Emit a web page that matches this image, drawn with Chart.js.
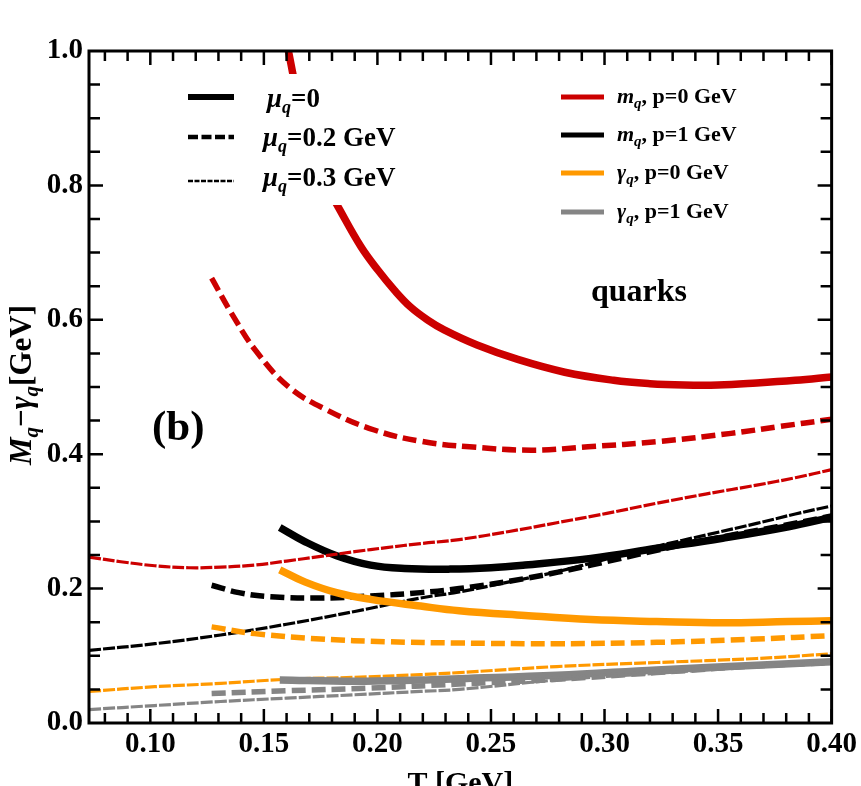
<!DOCTYPE html>
<html>
<head>
<meta charset="utf-8">
<script src="https://cdn.jsdelivr.net/npm/chart.js@4.4.1/dist/chart.umd.min.js"></script>
<style>
  html, body { margin: 0; padding: 0; background: #fff; overflow: hidden; }
  canvas { display: block; }
</style>
</head>
<body>
<canvas id="chart" width="861" height="810"></canvas>
<script>
// axis ticks
const xTicks = [0.10, 0.15, 0.20, 0.25, 0.30, 0.35, 0.40];
const yTicks = [0.0, 0.2, 0.4, 0.6, 0.8, 1.0];

// m_q, p=0 GeV
const tRedSolid = [0.1608, 0.166, 0.172, 0.1775, 0.1827, 0.1927, 0.2002, 0.2075, 0.2146, 0.222, 0.2294, 0.2439, 0.2618, 0.2825, 0.304, 0.320, 0.335, 0.350, 0.367, 0.384, 0.400];
const mRedSolid = [1.000, 0.915, 0.850, 0.800, 0.768, 0.709, 0.674, 0.644, 0.619, 0.600, 0.585, 0.5625, 0.541, 0.522, 0.510, 0.505, 0.503, 0.503, 0.506, 0.510, 0.515];
const tRedDash = [0.127, 0.1357, 0.1462, 0.161, 0.1776, 0.1986, 0.2196, 0.2406, 0.2678, 0.2927, 0.3242, 0.3557, 0.3767, 0.400];
const mRedDash = [0.662, 0.610, 0.555, 0.500, 0.466, 0.436, 0.419, 0.411, 0.406, 0.411, 0.419, 0.431, 0.441, 0.452];
const tRedThin = [0.073, 0.087, 0.102, 0.117, 0.131, 0.146, 0.160, 0.175, 0.190, 0.204, 0.219, 0.236, 0.258, 0.279, 0.301, 0.323, 0.345, 0.367, 0.384, 0.400];
const mRedThin = [0.247, 0.240, 0.234, 0.231, 0.232, 0.235, 0.241, 0.248, 0.255, 0.261, 0.267, 0.273, 0.285, 0.298, 0.312, 0.327, 0.341, 0.354, 0.365, 0.377];

// m_q, p=1 GeV
const tBlackSolid = [0.157, 0.168, 0.182, 0.197, 0.212, 0.232, 0.250, 0.265, 0.294, 0.323, 0.352, 0.381, 0.400];
const mBlackSolid = [0.291, 0.270, 0.249, 0.235, 0.230, 0.229, 0.231, 0.235, 0.245, 0.260, 0.275, 0.292, 0.306];
const tBlackDash = [0.127, 0.139, 0.153, 0.175, 0.197, 0.219, 0.236, 0.265, 0.294, 0.323, 0.352, 0.376, 0.400];
const mBlackDash = [0.205, 0.194, 0.188, 0.186, 0.189, 0.194, 0.200, 0.215, 0.235, 0.257, 0.277, 0.292, 0.308];
const tBlackThin = [0.073, 0.102, 0.131, 0.160, 0.190, 0.219, 0.236, 0.258, 0.279, 0.301, 0.323, 0.345, 0.367, 0.384, 0.400];
const mBlackThin = [0.108, 0.118, 0.131, 0.147, 0.166, 0.186, 0.195, 0.210, 0.225, 0.244, 0.263, 0.280, 0.297, 0.311, 0.323];

// gamma_q, p=0 GeV
const tOrangeSolid = [0.157, 0.168, 0.182, 0.197, 0.219, 0.236, 0.265, 0.294, 0.323, 0.352, 0.381, 0.400];
const gOrangeSolid = [0.228, 0.210, 0.194, 0.184, 0.174, 0.167, 0.160, 0.154, 0.151, 0.149, 0.151, 0.152];
const tOrangeDash = [0.127, 0.146, 0.175, 0.204, 0.236, 0.279, 0.323, 0.367, 0.400];
const gOrangeDash = [0.143, 0.133, 0.125, 0.121, 0.119, 0.118, 0.120, 0.125, 0.130];
const tOrangeThin = [0.073, 0.102, 0.131, 0.160, 0.190, 0.219, 0.236, 0.279, 0.323, 0.367, 0.400];
const gOrangeThin = [0.047, 0.054, 0.059, 0.065, 0.068, 0.072, 0.075, 0.084, 0.090, 0.096, 0.103];

// gamma_q, p=1 GeV
const tGraySolid = [0.157, 0.190, 0.219, 0.236, 0.279, 0.323, 0.367, 0.400];
const gGraySolid = [0.064, 0.062, 0.064, 0.066, 0.071, 0.079, 0.086, 0.091];
const tGrayDash = [0.127, 0.160, 0.197, 0.236, 0.279, 0.323, 0.367, 0.400];
const gGrayDash = [0.044, 0.048, 0.052, 0.058, 0.065, 0.075, 0.085, 0.090];
const tGrayThin = [0.073, 0.102, 0.131, 0.160, 0.190, 0.219, 0.236, 0.279, 0.323, 0.367, 0.400];
const gGrayThin = [0.020, 0.026, 0.032, 0.037, 0.042, 0.047, 0.050, 0.064, 0.074, 0.084, 0.091];

const muLabels = ['=0', '=0.2 GeV', '=0.3 GeV'];
const seriesLabels = [
  { sym: 'm', text: ', p=0 GeV' },
  { sym: 'm', text: ', p=1 GeV' },
  { sym: 'γ', text: ', p=0 GeV' },
  { sym: 'γ', text: ', p=1 GeV' },
];

const RED = '#cc0000';
const ORANGE = '#ff9900';
const GRAY = '#858585';
const BLACK = '#000000';
const SERIF = '"Liberation Serif", "Times New Roman", serif';

const styles = {
  solid: { borderWidth: 7.5, borderDash: [] },
  dash: { borderWidth: 5.5, borderDash: [14, 6] },
  thin: { borderWidth: 3.2, borderDash: [12, 2] },
};

function line(ts, vs, color, style) {
  return {
    data: ts.map((t, i) => ({ x: t, y: vs[i] })),
    borderColor: color,
    borderWidth: styles[style].borderWidth,
    borderDash: styles[style].borderDash,
    pointRadius: 0,
    fill: false,
    tension: 0.4,
    clip: 0,
  };
}

// draw a run of text pieces with different fonts / baseline shifts
function richText(ctx, parts, x, y) {
  let cx = x;
  parts.forEach(p => {
    ctx.font = p.font;
    ctx.fillText(p.t, cx, y + (p.dy || 0));
    cx += ctx.measureText(p.t).width;
  });
  return cx - x;
}
function richWidth(ctx, parts) {
  let w = 0;
  parts.forEach(p => { ctx.font = p.font; w += ctx.measureText(p.t).width; });
  return w;
}

const decorations = {
  id: 'decorations',
  afterDatasetsDraw(chart) {
    const { ctx, chartArea: a, scales: { x, y } } = chart;
    ctx.save();

    // left legend box (opaque)
    ctx.fillStyle = '#fff';
    ctx.fillRect(172, 74, 250, 131);

    // left legend: line styles
    const legY = [97, 137, 181];
    const legDash = [[], [10, 3.5], [5, 1.5]];
    const legW = [6, 4.5, 2.5];
    ctx.strokeStyle = BLACK;
    legY.forEach((ly, i) => {
      ctx.beginPath();
      ctx.setLineDash(legDash[i]);
      ctx.lineWidth = legW[i];
      ctx.moveTo(188, ly);
      ctx.lineTo(234, ly);
      ctx.stroke();
    });
    ctx.setLineDash([]);
    ctx.fillStyle = BLACK;
    ctx.textBaseline = 'alphabetic';
    ctx.textAlign = 'left';
    const muBase = [107, 146, 186];
    muLabels.forEach((lab, i) => {
      richText(ctx, [
        { t: 'μ', font: `italic bold 27px ${SERIF}` },
        { t: 'q', font: `italic bold 18px ${SERIF}`, dy: 6 },
        { t: lab, font: `bold 27px ${SERIF}` },
      ], i === 0 ? 267 : 263, muBase[i]);
    });

    // right legend: colours
    const colY = [97, 135, 173, 212];
    const cols = [RED, BLACK, ORANGE, GRAY];
    cols.forEach((c, i) => {
      ctx.beginPath();
      ctx.strokeStyle = c;
      ctx.lineWidth = 5;
      ctx.moveTo(561, colY[i]);
      ctx.lineTo(604, colY[i]);
      ctx.stroke();
    });
    seriesLabels.forEach((s, i) => {
      richText(ctx, [
        { t: s.sym, font: `italic bold 22px ${SERIF}` },
        { t: 'q', font: `italic bold 15px ${SERIF}`, dy: 5 },
        { t: s.text, font: `bold 22px ${SERIF}` },
      ], 617, colY[i] + 6);
    });

    // annotations
    ctx.font = `bold 32px ${SERIF}`;
    ctx.fillText('quarks', 591, 301);
    ctx.font = `bold 43px ${SERIF}`;
    ctx.fillText('(b)', 152, 440);

    // y axis title, rotated
    const yTitle = [
      { t: 'M', font: `italic bold 31px ${SERIF}` },
      { t: 'q', font: `italic bold 21px ${SERIF}`, dy: 7 },
      { t: '−', font: `bold 31px ${SERIF}` },
      { t: 'γ', font: `italic bold 31px ${SERIF}` },
      { t: 'q', font: `italic bold 21px ${SERIF}`, dy: 7 },
      { t: '[GeV]', font: `bold 31px ${SERIF}` },
    ];
    ctx.save();
    ctx.translate(31, 385);
    ctx.rotate(-Math.PI / 2);
    richText(ctx, yTitle, -richWidth(ctx, yTitle) / 2, 0);
    ctx.restore();

    // frame
    ctx.strokeStyle = BLACK;
    ctx.lineWidth = 3;
    ctx.strokeRect(a.left, a.top, a.right - a.left, a.bottom - a.top);

    // inward ticks on all four sides
    ctx.lineWidth = 2.5;
    ctx.beginPath();
    for (let k = 8; k <= 40; k++) {
      const v = k / 100;
      const px = x.getPixelForValue(v);
      const len = k % 5 === 0 ? 14 : 10;
      ctx.moveTo(px, a.bottom); ctx.lineTo(px, a.bottom - len);
      ctx.moveTo(px, a.top); ctx.lineTo(px, a.top + len);
    }
    for (let k = 1; k < 20; k++) {
      const v = k / 20;
      const py = y.getPixelForValue(v);
      const len = k % 4 === 0 ? 14 : 11;
      ctx.moveTo(a.left, py); ctx.lineTo(a.left + len, py);
      ctx.moveTo(a.right, py); ctx.lineTo(a.right - len, py);
    }
    ctx.stroke();
    ctx.restore();
  },
};

const ctx = document.getElementById('chart').getContext('2d');
new Chart(ctx, {
  type: 'line',
  data: {
    datasets: [
      line(tGrayThin, gGrayThin, GRAY, 'thin'),
      line(tGrayDash, gGrayDash, GRAY, 'dash'),
      line(tGraySolid, gGraySolid, GRAY, 'solid'),
      line(tOrangeThin, gOrangeThin, ORANGE, 'thin'),
      line(tOrangeDash, gOrangeDash, ORANGE, 'dash'),
      line(tOrangeSolid, gOrangeSolid, ORANGE, 'solid'),
      line(tRedThin, mRedThin, RED, 'thin'),
      line(tRedDash, mRedDash, RED, 'dash'),
      line(tRedSolid, mRedSolid, RED, 'solid'),
      line(tBlackThin, mBlackThin, BLACK, 'thin'),
      line(tBlackDash, mBlackDash, BLACK, 'dash'),
      line(tBlackSolid, mBlackSolid, BLACK, 'solid'),
    ],
  },
  options: {
    responsive: false,
    animation: false,
    devicePixelRatio: 1,
    layout: { padding: { top: 51, right: 25, left: 0, bottom: 0 } },
    plugins: {
      legend: { display: false },
      tooltip: { enabled: false },
    },
    scales: {
      x: {
        type: 'linear',
        min: 0.073,
        max: 0.40,
        grid: { display: false, drawTicks: false },
        border: { display: false },
        afterBuildTicks: s => { s.ticks = xTicks.map(v => ({ value: v })); },
        afterFit: s => { s.height = 87; },
        ticks: {
          padding: 4,
          color: BLACK,
          autoSkip: false,
          maxRotation: 0,
          font: { family: SERIF, size: 29, weight: 'bold' },
          callback: v => v.toFixed(2),
        },
        title: {
          display: true,
          text: 'T [GeV]',
          color: BLACK,
          font: { family: SERIF, size: 30, weight: 'bold' },
          padding: { top: 0, bottom: 8 },
        },
      },
      y: {
        type: 'linear',
        min: 0,
        max: 1,
        grid: { display: false, drawTicks: false },
        border: { display: false },
        afterBuildTicks: s => { s.ticks = yTicks.map(v => ({ value: v })); },
        afterFit: s => { s.width = 89; },
        ticks: {
          padding: 6,
          color: BLACK,
          autoSkip: false,
          font: { family: SERIF, size: 29, weight: 'bold' },
          callback: v => v.toFixed(1),
        },
      },
    },
  },
  plugins: [decorations],
});
</script>
</body>
</html>
